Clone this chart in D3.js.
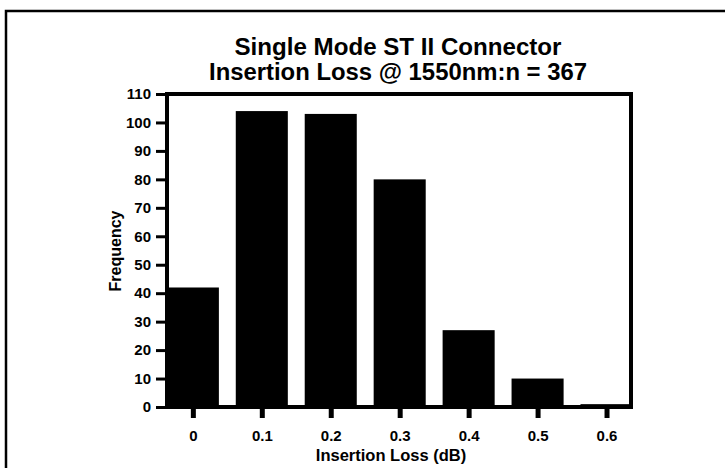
<!DOCTYPE html>
<html>
<head>
<meta charset="utf-8">
<script src="https://cdn.jsdelivr.net/npm/d3@7"></script>
<style>
  body { margin: 0; background: #fff; }
  svg text { font-family: "Liberation Sans", Arial, Helvetica, sans-serif; font-weight: bold; fill: #000; }
</style>
</head>
<body>
<svg id="chart" width="725" height="468"></svg>
<script>
const bins = [0, 0.1, 0.2, 0.3, 0.4, 0.5, 0.6]
const counts = [42, 104, 103, 80, 27, 10, 1]
const yTicks = [0, 10, 20, 30, 40, 50, 60, 70, 80, 90, 100, 110]
const titleLines = ["Single Mode ST II Connector", "Insertion Loss @ 1550nm:n = 367"]

const width = 725, height = 468
const svg = d3.select("#chart")

// outer frame of the figure (only top and left visible)
svg.append("path")
   .attr("d", `M6,${height + 5} V11 H${width + 5}`)
   .attr("fill", "none")
   .attr("stroke", "#000")
   .attr("stroke-width", 2.5)

const plotL = 167, plotR = 631, plotT = 94, plotB = 407
const xScale = d3.scaleLinear().domain([-0.0375, 0.6355]).range([plotL, plotR])
const yScale = d3.scaleLinear().domain([0, 110]).range([plotB, plotT])
const barW = (xScale(0.1) - xScale(0)) * 0.755

// bars
svg.append("g")
   .selectAll("rect")
   .data(bins)
   .join("rect")
   .attr("x", (d) => xScale(d) - barW / 2)
   .attr("y", (d, i) => yScale(counts[i]))
   .attr("width", barW)
   .attr("height", (d, i) => plotB - yScale(counts[i]))
   .attr("fill", "#000")

// y axis
const yAxis = d3.axisLeft(yScale).tickValues(yTicks).tickSize(11).tickPadding(5).tickSizeOuter(0)
const yAxisSVG = svg.append("g")
   .attr("transform", `translate(${plotL}, 0)`)
   .call(yAxis)
   .attr("font-size", 15)
   .attr("font-family", null)
yAxisSVG.select(".domain").remove()
yAxisSVG.selectAll(".tick line").attr("stroke", "#000").attr("stroke-width", 3)
yAxisSVG.selectAll(".tick text").attr("fill", "#000")

// x axis
const xAxis = d3.axisBottom(xScale).tickValues(bins).tickSize(11).tickPadding(12).tickSizeOuter(0)
   .tickFormat(d3.format("~g"))
const xAxisSVG = svg.append("g")
   .attr("transform", `translate(0, ${plotB})`)
   .call(xAxis)
   .attr("font-size", 15)
   .attr("font-family", null)
xAxisSVG.select(".domain").remove()
xAxisSVG.selectAll(".tick line").attr("stroke", "#000").attr("stroke-width", 5)
xAxisSVG.selectAll(".tick text").attr("fill", "#000")

// plot frame
svg.append("rect")
   .attr("x", plotL).attr("y", plotT)
   .attr("width", plotR - plotL).attr("height", plotB - plotT)
   .attr("fill", "none")
   .attr("stroke", "#000")
   .attr("stroke-width", 4)

// titles
svg.append("text")
   .text(titleLines[0])
   .attr("x", 398).attr("y", 55)
   .attr("text-anchor", "middle")
   .attr("font-size", 23)
   .attr("textLength", 327)
   .attr("lengthAdjust", "spacingAndGlyphs")
svg.append("text")
   .text(titleLines[1])
   .attr("x", 398).attr("y", 80)
   .attr("text-anchor", "middle")
   .attr("font-size", 23)
   .attr("textLength", 378)
   .attr("lengthAdjust", "spacingAndGlyphs")

// axis labels
svg.append("text")
   .text("Insertion Loss (dB)")
   .attr("x", 391).attr("y", 461)
   .attr("text-anchor", "middle")
   .attr("font-size", 16.5)
svg.append("text")
   .text("Frequency")
   .attr("transform", "translate(121, 251) rotate(-90)")
   .attr("text-anchor", "middle")
   .attr("font-size", 16)
</script>
</body>
</html>
